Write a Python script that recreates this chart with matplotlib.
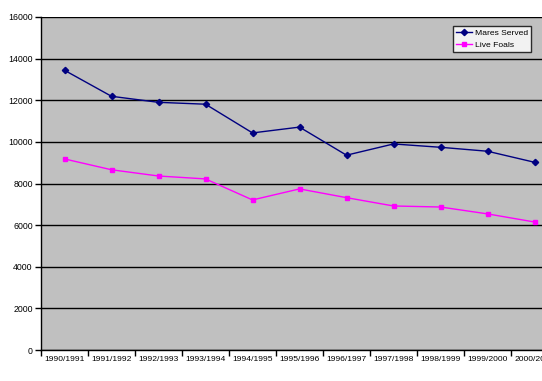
import matplotlib
matplotlib.use("Agg")
from matplotlib import pyplot as plt

# data
seasons = ["1990/1991", "1991/1992", "1992/1993", "1993/1994", "1994/1995",
           "1995/1996", "1996/1997", "1997/1998", "1998/1999", "1999/2000", "2000/2001"]
mares_served = [13440, 12190, 11900, 11810, 10430, 10710, 9360, 9900, 9740, 9550, 9020]
live_foals = [9180, 8660, 8360, 8220, 7210, 7740, 7320, 6920, 6870, 6540, 6150]

plt.rcParams['font.family'] = ['Liberation Sans', 'DejaVu Sans']

fig = plt.figure(figsize=(5.42, 3.81), dpi=100)
W, H = 542, 381
# plot area runs past the right edge of the picture, like the original
ax = fig.add_axes([41 / W, (H - 350) / H, (558 - 41) / W, 333 / H])
ax.set_facecolor("#C0C0C0")

x = range(len(seasons))
ax.plot(x, mares_served, color="#000080", marker="D", markersize=3.2, linewidth=1, label="Mares Served")
ax.plot(x, live_foals, color="#FF00FF", marker="s", markersize=3.2, linewidth=1, label="Live Foals")

ax.set_xlim(-0.5, len(seasons) - 0.5)
ax.set_ylim(0, 16000)
ax.set_yticks(range(0, 16001, 2000))
ax.yaxis.grid(True, color="black", linewidth=1)
ax.set_axisbelow(True)

# tick marks between categories, labels centred
ax.set_xticks([i - 0.5 for i in range(len(seasons) + 1)])
ax.set_xticklabels([])
ax.set_xticks(list(x), minor=True)
ax.set_xticklabels(seasons, minor=True)
ax.tick_params(axis="x", which="major", length=4, width=1, color="black", direction="out")
ax.tick_params(axis="x", which="minor", length=0, labelsize=6.1, pad=4)
ax.tick_params(axis="y", length=4, width=1, labelsize=6.3, pad=2)

for s in ["top", "right"]:
    ax.spines[s].set_visible(False)
for s in ["left", "bottom"]:
    ax.spines[s].set_color("black")
    ax.spines[s].set_linewidth(1)

leg = ax.legend(loc="upper left", bbox_to_anchor=((453 - 41) / (558 - 41), (350 - 26) / 333),
                fontsize=6.1, frameon=True, fancybox=False, borderpad=0.35,
                handlelength=1.9, handletextpad=0.3, labelspacing=0.45, borderaxespad=0)
leg.get_frame().set_edgecolor("black")
leg.get_frame().set_facecolor("white")
leg.get_frame().set_linewidth(1)

fig.savefig("out.png", dpi=100)
